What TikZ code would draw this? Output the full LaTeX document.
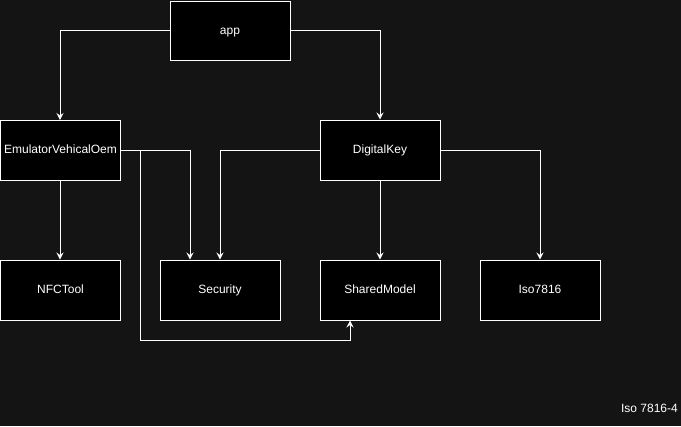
\documentclass[tikz,border=0pt]{standalone}
\usepackage{fontspec}
\setmainfont{Liberation Sans}
\usetikzlibrary{arrows.meta}
\definecolor{bgc}{RGB}{20,20,20}
\begin{document}
\begin{tikzpicture}[x=1bp,y=-1bp,
  box/.style={draw=white,fill=black,line width=1bp,minimum width=120bp,minimum height=60bp,inner sep=0pt,text=white,text height=9bp,text depth=2bp,font=\fontsize{12bp}{14bp}\selectfont},
  conn/.style={draw=white,line width=1bp,-{Stealth[length=7bp,width=7bp,inset=2.5bp]}}]
\fill[bgc] (0,0) rectangle (681,426);
\useasboundingbox (0,0) rectangle (681,426);
\node[box] (app) at (230,30.5) [minimum height=59bp] {app};
\node[box] (emu) at (60.5,150) [minimum width=119bp] {EmulatorVehicalOem};
\node[box] (dk) at (380,150) {DigitalKey};
\node[box] (nfc) at (60.5,290) [minimum width=119bp] {NFCTool};
\node[box] (sec) at (220,290) {Security};
\node[box] (sm) at (380,290) {SharedModel};
\node[box] (iso) at (540,290) {Iso7816};
\node[text=white,font=\fontsize{12bp}{14bp}\selectfont,anchor=east,inner sep=0pt,text height=9bp,text depth=2bp] (lbl) at (678,409) {Iso 7816-4};
\draw[conn] (app.west) -| (60,120);
\draw[conn] (app.east) -| (dk.north);
\draw[conn] (emu.east) -| (sec.north -| 190,0);
\draw[conn] (emu.east) -- (140,150) -- (140,340) -| (sm.south -| 350,0);
\draw[conn] (dk.west) -| (sec.north);
\draw[conn] (dk.south) -- (sm.north);
\draw[conn] (dk.east) -| (iso.north);
\draw[conn] (emu.south -| 60,0) -- (nfc.north -| 60,0);
\end{tikzpicture}
\end{document}
